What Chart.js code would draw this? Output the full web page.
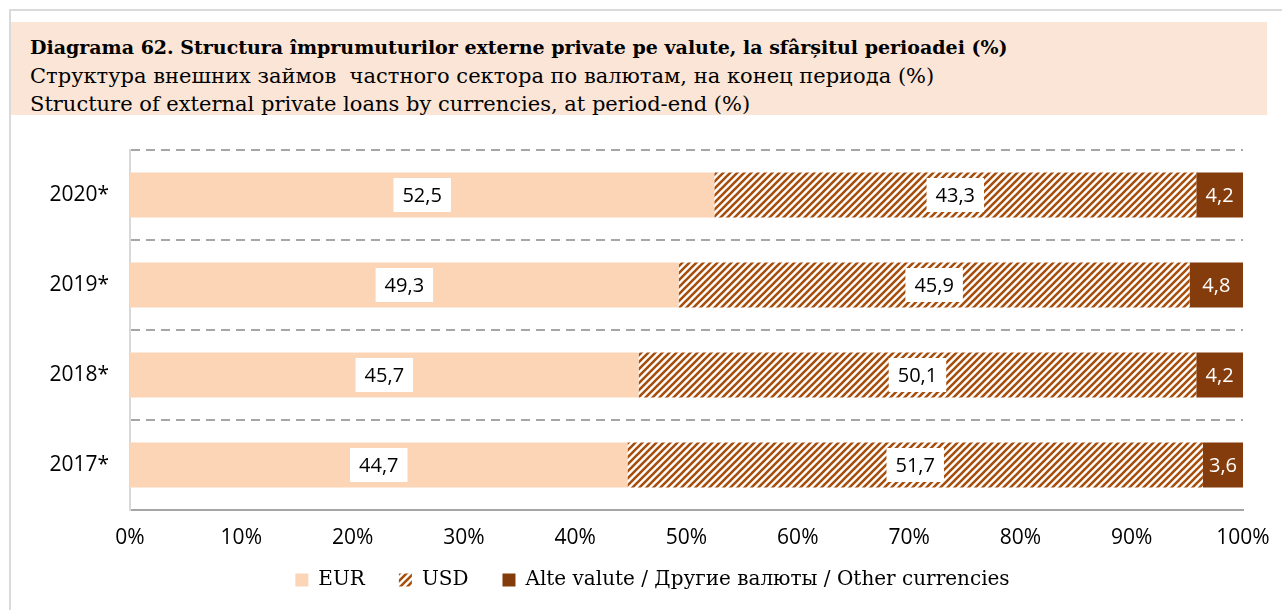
<!DOCTYPE html>
<html>
<head>
<meta charset="utf-8">
<script src="https://cdn.jsdelivr.net/npm/chart.js@4.4.0/dist/chart.umd.min.js"></script>
<style>
  html, body { margin: 0; padding: 0; background: #fff; }
  body { position: relative; width: 1282px; height: 610px; overflow: hidden; }
  #frame { position: absolute; left: 9px; top: 9px; width: 1320px; height: 700px;
           border: 2px solid #dadada; box-sizing: border-box; }
  #head { position: absolute; left: 11px; top: 22px; width: 1256px; height: 93px;
          background: #fbe5d6; box-sizing: border-box; padding: 11px 0 0 19px;
          font-family: 'DejaVu Serif', serif; font-size: 21px; line-height: 28.5px; color: #000; }
  #head b { font-weight: bold; font-size: 19px; }
  #chart { position: absolute; left: 0; top: 0; }
</style>
</head>
<body>
<div id="frame"></div>
<div id="head">
  <b>Diagrama 62. Structura împrumuturilor externe private pe valute, la sfârșitul perioadei (%)</b><br>
  Структура внешних займов&nbsp; частного сектора по валютам, на конец периода (%)<br>
  Structure of external private loans by currencies, at period-end (%)
</div>
<canvas id="chart" width="1282" height="610"></canvas>
<script>
  const categories = ['2020*', '2019*', '2018*', '2017*'];
  const eurValues = [52.5, 49.3, 45.7, 44.7];
  const usdValues = [43.3, 45.9, 50.1, 51.7];
  const otherValues = [4.2, 4.8, 4.2, 3.6];
  const seriesNames = ['EUR', 'USD', 'Alte valute / Другие валюты / Other currencies'];

  const SANS = '"Open Sans", sans-serif';
  const SERIF = '"DejaVu Serif", serif';

  // diagonal brown stripes for the USD series
  function makeHatch(bg, fg) {
    const s = 7;
    const c = document.createElement('canvas');
    c.width = s; c.height = s;
    const g = c.getContext('2d');
    g.fillStyle = bg;
    g.fillRect(0, 0, s, s);
    g.strokeStyle = fg;
    g.lineWidth = 2.6;
    g.beginPath();
    g.moveTo(-1, s + 1); g.lineTo(s + 1, -1);
    g.moveTo(-1, 1); g.lineTo(1, -1);
    g.moveTo(s - 1, s + 1); g.lineTo(s + 1, s - 1);
    g.stroke();
    return g.createPattern(c, 'repeat');
  }

  const ctx = document.getElementById('chart').getContext('2d');
  const usdHatch = makeHatch('#ffffff', '#a64f0e');

  // value labels: white box for EUR / USD, plain white text on the dark bar
  const barLabels = {
    id: 'barLabels',
    afterDatasetsDraw(chart) {
      const c = chart.ctx;
      c.save();
      c.font = '20px ' + SANS;
      c.textAlign = 'center';
      c.textBaseline = 'middle';
      chart.data.datasets.forEach((ds, i) => {
        chart.getDatasetMeta(i).data.forEach((bar, j) => {
          const txt = ds.data[j].toFixed(1).replace('.', ',');
          const cx = (bar.x + bar.base) / 2;
          const cy = bar.y;
          if (i < 2) {
            const w = c.measureText(txt).width + 18;
            c.fillStyle = '#fff';
            c.fillRect(cx - w / 2, cy - 17, w, 34);
            c.fillStyle = '#000';
          } else {
            c.fillStyle = '#fff';
          }
          c.fillText(txt, cx, cy + 1);
        });
      });
      c.restore();
    }
  };

  // legend sits closer to the axis labels than Chart.js would put it
  const legendNudge = {
    id: 'legendNudge',
    afterLayout(chart) {
      const lg = chart.legend;
      if (!lg) return;
      lg.top -= 17; lg.bottom -= 17;
      lg.left += 31; lg.right += 31;
    }
  };

  new Chart(ctx, {
    type: 'bar',
    data: {
      labels: categories,
      datasets: [
        { label: seriesNames[0], data: eurValues, backgroundColor: '#fbd5b5' },
        { label: seriesNames[1], data: usdValues, backgroundColor: usdHatch },
        { label: seriesNames[2], data: otherValues, backgroundColor: '#843c0c' }
      ]
    },
    options: {
      indexAxis: 'y',
      responsive: false,
      animation: false,
      layout: { padding: { top: 150, right: 39, left: 0, bottom: -2 } },
      datasets: { bar: { barPercentage: 0.5, categoryPercentage: 1 } },
      scales: {
        x: {
          stacked: true,
          min: 0,
          max: 100,
          afterFit(scale) {
            scale.height = 43;
            scale.paddingRight = 39;
          },
          grid: { display: false, drawTicks: false },
          border: { display: true, color: '#a6a6a6', width: 2 },
          ticks: {
            stepSize: 10,
            padding: 15,
            color: '#000',
            font: { family: SANS, size: 21 },
            callback: v => v + '%'
          }
        },
        y: {
          stacked: true,
          afterFit(scale) { scale.width = 130; },
          grid: { color: '#a6a6a6', lineWidth: 2, drawTicks: false },
          border: { display: true, color: '#d9d9d9', width: 2, dash: [9, 6] },
          ticks: { padding: 21, color: '#000', font: { family: SANS, size: 21 } }
        }
      },
      plugins: {
        legend: {
          position: 'bottom',
          maxHeight: 59,
          labels: {
            boxWidth: 13,
            boxHeight: 13,
            padding: 34,
            color: '#000',
            font: { family: SERIF, size: 20 }
          }
        },
        tooltip: { enabled: false }
      }
    },
    plugins: [barLabels, legendNudge]
  });
</script>
</body>
</html>
